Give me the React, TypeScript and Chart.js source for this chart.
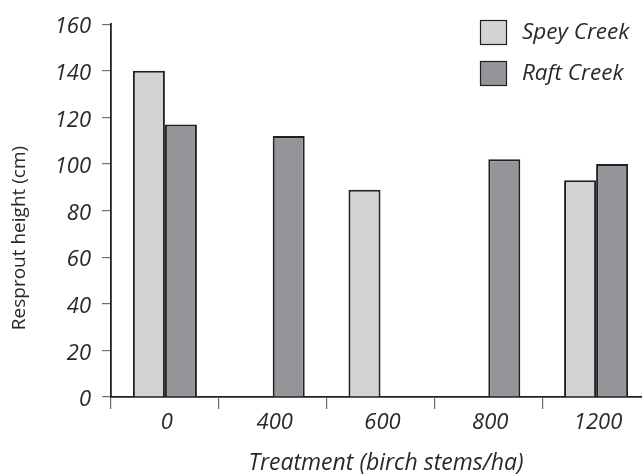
import React, { useEffect, useRef } from "react";
import { Chart, registerables } from "chart.js";

Chart.register(...registerables);

// ---- data ----
const categories = ["0", "400", "600", "800", "1200"];
const speyCreek: (number | null)[] = [140, null, 89, null, 93];
const raftCreek: (number | null)[] = [117, 112, null, 102, 100];
const seriesNames = ["Spey Creek", "Raft Creek"];
const yMin = 0;
const yMax = 160;
const yStep = 20;
const xTitle = "Treatment (birch stems/ha)";
const yTitle = "Resprout height (cm)";

const LIGHT = "#d1d3d4";
const DARK = "#939598";
const EDGE = "#231f20";
const TEXT = "#2b2829";
const FONT = "'Open Sans', sans-serif";

const overlayPlugin = {
  id: "overlay",
  afterDraw(chart: any) {
    const ctx = chart.ctx;
    ctx.save();
    // legend
    const fills = [LIGHT, DARK];
    seriesNames.forEach((name, i) => {
      const bx = 480;
      const by = 20 + i * 41;
      ctx.fillStyle = fills[i];
      ctx.fillRect(bx, by, 27, 25);
      ctx.strokeStyle = EDGE;
      ctx.lineWidth = 1.2;
      ctx.strokeRect(bx + 0.5, by + 0.5, 26, 24);
      ctx.fillStyle = TEXT;
      ctx.font = `italic 400 22.5px ${FONT}`;
      ctx.textAlign = "left";
      ctx.textBaseline = "middle";
      ctx.fillText(name, 522, by + 13);
    });
    // x title
    ctx.font = `italic 400 23px ${FONT}`;
    ctx.textAlign = "center";
    ctx.textBaseline = "middle";
    ctx.fillStyle = TEXT;
    ctx.fillText(xTitle, 386, 463);
    // y title
    ctx.save();
    ctx.translate(20, 238);
    ctx.rotate(-Math.PI / 2);
    ctx.font = `400 19px ${FONT}`;
    ctx.fillText(yTitle, 0, 0);
    ctx.restore();
    ctx.restore();
  },
};

export default function App() {
  const ref = useRef<HTMLCanvasElement>(null);
  useEffect(() => {
    if (!ref.current) return;
    const chart = new Chart(ref.current, {
      type: "bar",
      data: {
        labels: categories,
        datasets: [
          {
            label: seriesNames[0],
            data: speyCreek,
            backgroundColor: LIGHT,
            borderColor: EDGE,
            borderWidth: 2,
            borderSkipped: "bottom",
          },
          {
            label: seriesNames[1],
            data: raftCreek,
            backgroundColor: DARK,
            borderColor: EDGE,
            borderWidth: 2,
            borderSkipped: "bottom",
          },
        ],
      },
      options: {
        responsive: false,
        animation: false,
        devicePixelRatio: 1,
        categoryPercentage: 0.594,
        barPercentage: 1.0,
        layout: { padding: { left: 0, top: 15, right: 2, bottom: 0 } },
        plugins: {
          legend: { display: false },
          tooltip: { enabled: false },
          title: { display: false },
        },
        scales: {
          x: {
            grid: {
              offset: true,
              drawOnChartArea: false,
              drawTicks: true,
              tickLength: 12,
              color: "#6d6e71",
              lineWidth: 1.2,
            },
            border: { display: true, color: EDGE, width: 1.8 },
            ticks: {
              color: TEXT,
              font: { family: FONT, size: 22, style: "italic", weight: "400" },
              padding: 1,
              maxRotation: 0,
              labelOffset: 2,
            },
            afterFit: (s: any) => {
              s.height = 79;
            },
          },
          y: {
            min: yMin,
            max: yMax,
            grid: {
              drawOnChartArea: false,
              drawTicks: true,
              tickLength: 9,
              color: "#6d6e71",
              lineWidth: 1.2,
            },
            border: { display: true, color: EDGE, width: 1.8 },
            ticks: {
              stepSize: yStep,
              color: TEXT,
              font: { family: FONT, size: 22, style: "italic", weight: "400" },
              padding: 11,
              labelOffset: 3,
            },
            afterFit: (s: any) => {
              s.width = 111;
            },
          },
        },
      },
      plugins: [overlayPlugin],
    } as any);
    return () => chart.destroy();
  }, []);
  return (
    <div
      style={{
        position: "fixed",
        left: 0,
        top: 0,
        width: 642,
        height: 476,
        overflow: "hidden",
        background: "#fff",
      }}
    >
      <canvas ref={ref} width={652} height={476} style={{ display: "block" }} />
    </div>
  );
}
